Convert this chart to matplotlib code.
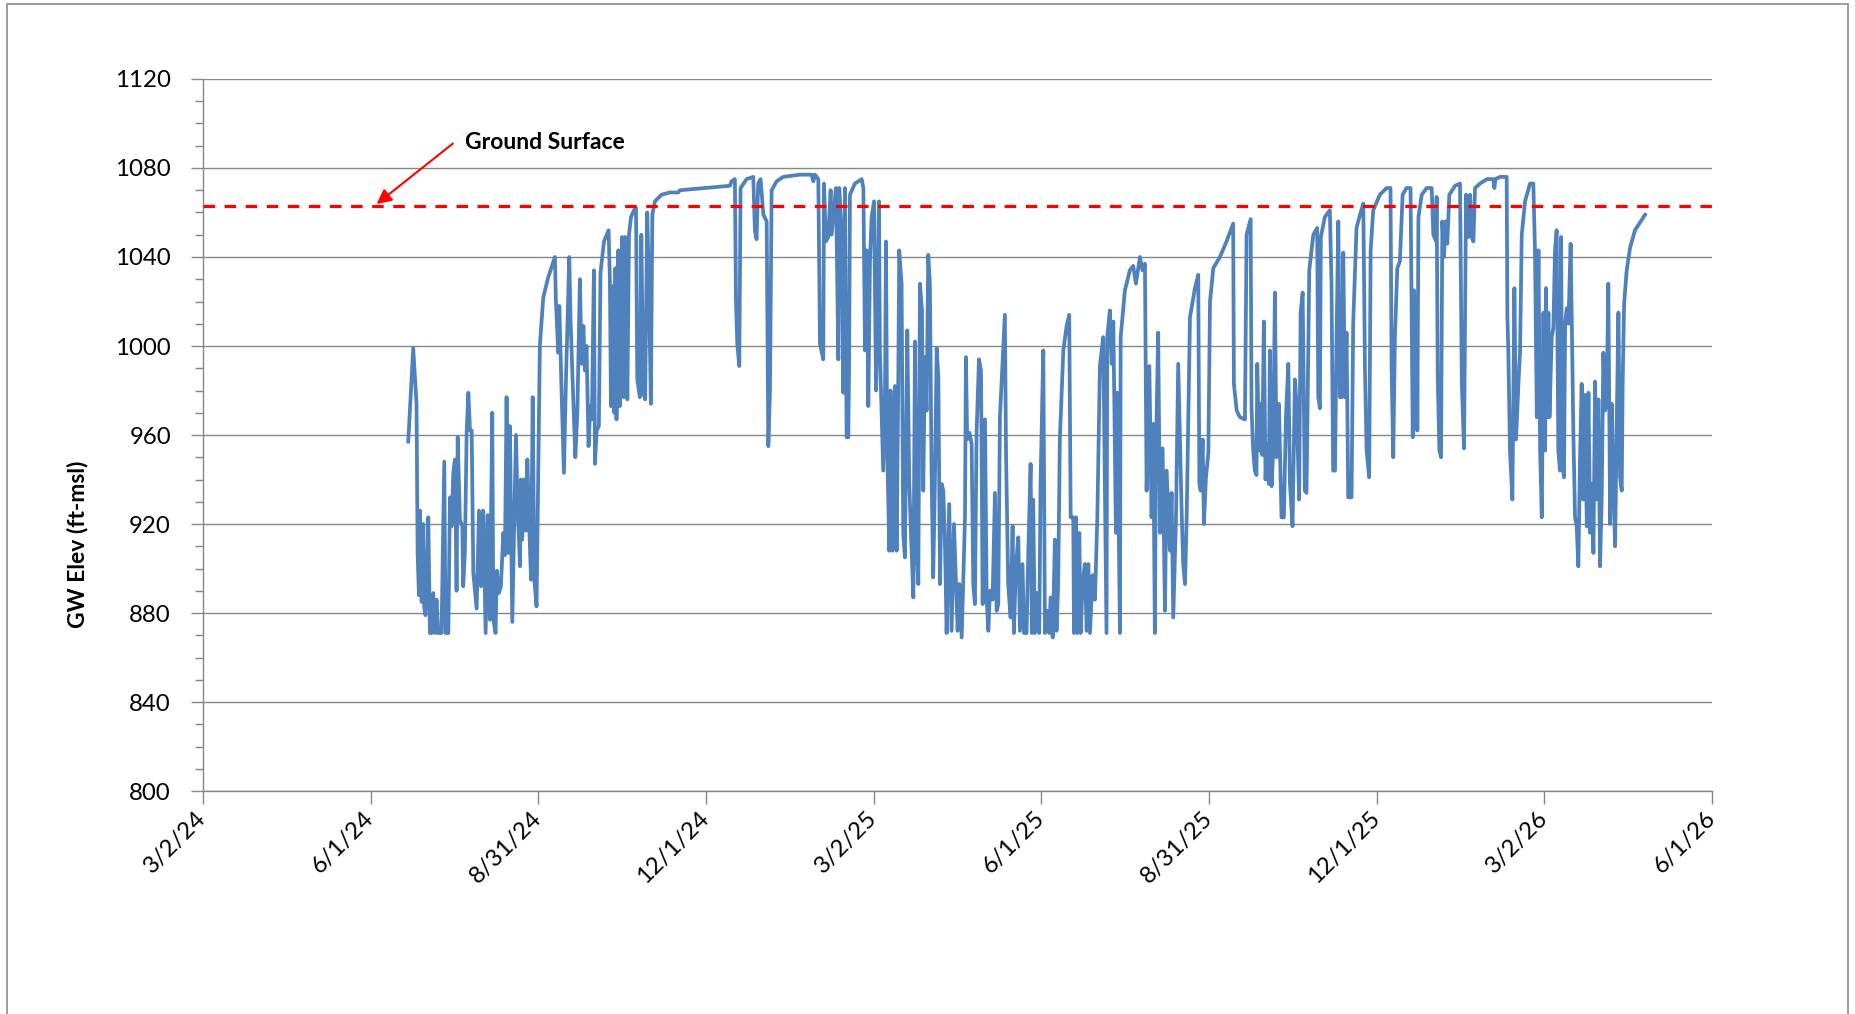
import numpy as np
import matplotlib
matplotlib.use('Agg')
import matplotlib.pyplot as plt
from matplotlib.patches import Rectangle

plt.rcParams['font.family'] = ['Lato', 'DejaVu Sans']

# (days since 3/2/24, GW elevation ft-msl)
summer_2024 = [
    (111.7, 957), (114.4, 999), (116.2, 974), (116.8, 907), (117.5, 888), (118.1, 926),
    (119.0, 885), (119.9, 920), (120.4, 882), (121.1, 879), (121.7, 892), (122.6, 923),
    (123.5, 871), (124.4, 871), (125.3, 889), (126.2, 871), (127.1, 886), (128.0, 871),
    (129.8, 871), (131.3, 948), (132.0, 871), (133.5, 871), (134.4, 932), (135.3, 919),
    (136.2, 943), (137.1, 949), (138.0, 890), (138.6, 959), (139.8, 922), (141.1, 919),
    (141.6, 892), (142.5, 907), (143.5, 962), (144.4, 979), (145.3, 962), (146.2, 962),
    (147.1, 898), (148.9, 882), (150.2, 926), (151.3, 892), (152.5, 926), (153.8, 871),
    (154.9, 924), (156.1, 877), (157.4, 970), (158.0, 877), (159.2, 871), (159.9, 899),
    (161.0, 889), (162.1, 892), (163.4, 916), (164.3, 906), (165.2, 977), (166.1, 907),
    (167.0, 964), (168.3, 876), (169.4, 922), (170.3, 960), (171.2, 928), (172.5, 901),
    (173.0, 940), (173.7, 913), (174.8, 940), (175.7, 917), (176.5, 949), (177.4, 922),
    (178.5, 895), (179.4, 977), (180.3, 895), (181.5, 883), (182.4, 940), (183.3, 1000),
    (184.3, 1012), (185.2, 1022), (187.9, 1031), (191.5, 1040), (192.0, 1021), (193.3, 997),
    (193.9, 1018), (195.1, 980), (196.4, 943), (197.5, 985), (199.3, 1040), (200.0, 1012),
    (201.1, 985), (202.6, 950), (203.7, 970), (205.1, 1030), (206.0, 992), (207.0, 1009),
    (207.8, 989), (208.7, 1000), (209.8, 955), (210.7, 973), (211.6, 967), (212.7, 1034),
    (213.3, 947), (214.2, 962), (215.4, 964),
]

fall_2024 = [
    (216.3, 1033), (218.2, 1047), (220.7, 1052), (221.4, 1030), (222.0, 973), (223.2, 1027),
    (223.8, 970), (224.4, 1035), (225.0, 967), (226.0, 1043), (226.9, 973), (228.0, 1049),
    (228.9, 977), (229.8, 1049), (230.9, 976), (231.8, 1050), (232.9, 1058), (234.5, 1061),
    (235.6, 1062), (236.3, 985), (237.7, 977), (238.5, 1050), (239.6, 979), (240.6, 976),
    (241.7, 1060), (242.6, 1030), (243.7, 974), (244.5, 1059), (245.9, 1065), (249.5, 1068),
    (254.0, 1069), (258.6, 1069), (259.5, 1070), (286.7, 1072), (287.6, 1074), (289.4, 1075),
    (290.0, 1020), (290.7, 1001), (291.8, 991), (292.5, 1071), (295.8, 1075), (299.4, 1076),
    (300.3, 1052), (301.2, 1048), (302.1, 1073), (303.4, 1075), (304.9, 1059), (306.7, 1056),
    (307.6, 955), (308.5, 980), (309.4, 1070), (312.1, 1074), (315.7, 1076),
]

winter_2025 = [
    (324.8, 1077), (331.2, 1077), (332.1, 1074), (333.0, 1077), (334.8, 1075), (335.7, 1001),
    (337.5, 994), (337.9, 1073), (338.9, 1047), (340.2, 1049), (341.5, 1070), (342.0, 1050),
    (342.9, 1058), (344.4, 1071), (345.7, 994), (346.2, 1071), (347.5, 1050), (348.4, 979),
    (349.3, 1071), (350.2, 959), (351.1, 959), (351.6, 995), (352.0, 1068), (354.7, 1073),
    (358.4, 1075), (359.3, 1071), (360.2, 998), (361.1, 1043), (362.0, 973), (362.9, 1038),
    (363.8, 1058), (365.1, 1065), (366.2, 980), (366.9, 1013), (367.8, 1065), (368.3, 998),
    (370.1, 944), (371.1, 980), (371.6, 1047), (372.3, 953), (373.4, 908), (374.1, 980),
    (375.2, 908), (376.5, 982), (377.4, 908), (378.3, 983), (378.8, 1043), (380.1, 1028),
    (381.0, 916), (381.9, 905), (383.2, 1007), (384.3, 938), (385.2, 916), (386.5, 887),
    (387.4, 1002), (388.3, 908), (389.2, 893), (390.1, 1028), (391.2, 1016), (391.9, 935),
    (392.8, 995), (393.7, 971), (394.6, 1041), (395.5, 1028), (396.4, 944), (397.3, 896),
    (398.2, 938), (399.2, 999), (400.1, 986), (401.0, 893), (401.9, 938), (402.8, 935),
    (403.7, 911), (404.6, 871), (406.0, 929), (407.3, 872), (408.6, 920), (409.7, 893),
    (410.6, 872), (411.5, 893), (412.8, 869), (413.7, 896), (414.6, 923), (415.1, 995),
    (415.8, 958), (417.0, 961), (418.2, 956), (419.1, 893), (420.0, 884), (420.9, 961),
    (422.2, 994), (423.3, 989), (424.2, 884), (425.5, 967), (426.4, 886), (427.3, 872),
    (428.2, 890), (429.6, 886), (430.9, 934), (431.8, 881), (432.7, 884),
]

spring_2025 = [
    (433.6, 968), (436.3, 1014), (436.9, 953), (438.1, 893), (439.4, 878), (440.5, 919),
    (441.2, 871), (442.3, 901), (443.6, 914), (444.5, 872), (445.9, 902), (446.7, 871),
    (448.1, 871), (449.0, 906), (450.3, 947), (451.0, 871), (451.7, 931), (452.6, 871),
    (453.5, 889), (455.0, 871), (455.7, 938), (457.2, 998), (458.1, 871), (459.4, 881),
    (460.4, 871), (461.2, 887), (462.3, 869), (463.5, 913), (464.4, 872), (465.3, 893),
    (466.2, 958), (468.1, 998), (469.9, 1009), (471.3, 1014), (472.1, 923), (473.5, 923),
    (473.9, 871), (475.0, 923), (475.7, 871), (476.8, 916), (477.5, 871), (478.6, 893),
    (479.8, 902), (480.8, 872), (481.7, 902), (482.6, 871), (484.0, 897), (485.3, 886),
    (486.6, 923), (488.0, 991), (489.8, 1004), (491.6, 871), (492.0, 1004), (493.4, 1016),
    (494.4, 992), (495.3, 1011), (496.7, 916), (497.4, 979), (498.9, 871), (499.3, 1004),
    (501.6, 1025), (504.3, 1034), (506.1, 1036), (507.6, 1028), (509.8, 1040), (511.2, 1034),
    (512.5, 1037), (513.4, 935), (514.9, 991), (516.1, 923), (517.0, 965), (517.9, 871),
    (518.5, 953), (519.7, 1006), (520.7, 916), (522.1, 954), (523.4, 881), (524.3, 944),
    (526.1, 908), (527.0, 934), (527.9, 878), (529.4, 923), (530.6, 992), (531.5, 959),
    (532.4, 928), (533.3, 902), (534.3, 893), (535.2, 923), (537.0, 1013), (539.7, 1026),
    (541.5, 1032), (542.1, 938), (542.8, 935), (543.9, 958), (544.6, 920), (545.7, 941),
    (547.0, 952), (547.9, 1020), (549.7, 1035),
]

fall_2025 = [
    (553.3, 1040), (556.9, 1047), (560.5, 1055), (560.9, 983), (562.4, 971), (564.2, 968),
    (566.9, 967), (567.8, 1050), (570.0, 1057), (570.5, 972), (571.4, 953), (572.3, 944),
    (573.2, 942), (573.6, 992), (574.7, 953), (575.4, 974), (576.3, 951), (577.2, 1011),
    (578.1, 940), (579.2, 956), (579.9, 938), (580.5, 998), (581.4, 937), (582.3, 953),
    (583.2, 1024), (584.1, 950), (585.4, 974), (586.8, 923), (588.1, 923), (589.2, 968),
    (590.5, 992), (591.4, 938), (592.8, 919), (594.1, 985), (595.0, 974), (596.4, 931),
    (597.2, 1015), (598.3, 1024), (599.5, 935), (600.4, 934), (601.9, 1034), (604.1, 1050),
    (606.2, 1053), (606.8, 977), (607.7, 972), (608.2, 1049), (610.4, 1058), (613.1, 1061),
    (614.0, 1028), (614.9, 944), (615.9, 944), (616.8, 1007), (617.7, 1056), (618.6, 977),
    (619.5, 977), (620.4, 1042), (621.3, 977), (622.2, 1006), (623.1, 932), (624.9, 932),
    (625.8, 1010), (627.6, 1053), (629.5, 1059), (631.3, 1064), (632.2, 990), (633.1, 953),
    (634.5, 941), (635.3, 1043), (636.7, 1061), (640.3, 1068), (644.0, 1071), (646.1, 1071),
    (646.7, 990), (647.6, 950), (648.5, 1004), (649.8, 1035), (651.2, 1038), (652.7, 1068),
    (654.8, 1071), (657.0, 1071),
]

winter_2026 = [
    (658.2, 959), (658.9, 1025), (659.5, 964), (660.4, 1022), (660.7, 962), (661.3, 1058),
    (663.1, 1068), (665.8, 1071), (668.5, 1071), (669.4, 1050), (670.9, 1047), (671.2, 1067),
    (671.8, 985), (672.7, 953), (673.6, 950), (674.3, 1056), (675.2, 1040), (676.1, 1056),
    (677.0, 1046), (678.1, 1068), (681.2, 1072), (683.9, 1073), (684.9, 983), (686.1, 954),
    (687.2, 1068), (688.5, 1049), (689.4, 1068), (690.3, 1049), (691.2, 1047), (692.1, 1071),
    (694.8, 1073), (698.5, 1075), (702.1, 1075), (702.6, 1071), (703.2, 1075), (705.7, 1076),
    (709.3, 1076), (709.7, 1013), (710.2, 998), (711.1, 953), (712.4, 931), (713.5, 1026),
    (714.4, 958), (715.7, 983), (716.6, 998), (717.5, 1050), (719.3, 1065), (722.0, 1073),
    (723.8, 1073), (724.7, 1043), (725.7, 968), (726.6, 1043), (727.5, 953), (728.4, 923),
    (729.3, 1015), (730.2, 953), (730.7, 1026), (731.5, 968), (732.0, 1015), (732.6, 968),
    (733.8, 1004), (734.7, 1008), (735.6, 1043), (736.5, 1052), (737.4, 953), (738.3, 944),
    (738.9, 1049), (739.6, 947), (740.5, 941), (741.1, 1010), (742.0, 1017), (742.9, 1010),
    (744.1, 1046), (744.7, 1013), (745.6, 960), (746.5, 923), (747.4, 919), (748.3, 901),
    (749.2, 949), (750.1, 983), (751.0, 931), (751.9, 978), (752.9, 919), (753.8, 979),
    (754.7, 916), (755.6, 938), (756.5, 907), (757.4, 984), (758.3, 931), (759.2, 976),
    (760.1, 901), (761.0, 931), (761.9, 997), (762.8, 971), (763.7, 974), (764.6, 1028),
    (765.6, 920), (766.5, 974), (767.4, 938), (768.3, 910), (769.2, 966), (770.1, 1015),
    (771.0, 941), (771.9, 935), (772.4, 983), (773.2, 1019), (774.6, 1034), (776.4, 1044),
    (779.1, 1052), (784.6, 1059),
]

ground_surface = 1063
x_span_days = 821  # 3/2/24 -> 6/1/26
x_labels = ['3/2/24', '6/1/24', '8/31/24', '12/1/24', '3/2/25',
            '6/1/25', '8/31/25', '12/1/25', '3/2/26', '6/1/26']
y_major = np.arange(800, 1121, 40)
y_minor = np.arange(800, 1121, 10)

records = summer_2024 + fall_2024 + winter_2025 + spring_2025 + fall_2025 + winter_2026
days = np.array([d for d, _ in records])
elev = np.array([v for _, v in records])

grey = '#868686'

fig = plt.figure(figsize=(18.55, 10.14), dpi=100)
ax = fig.add_axes([0.1094, 0.2199, 0.8135, 0.7022])

ax.plot(days, elev, color='#4F81BD', lw=2.7, solid_joinstyle='round', zorder=3)
ax.axhline(ground_surface, color='red', lw=2.3, ls=(0, (3.6, 3.0)), zorder=4)

ax.set_xlim(0, x_span_days)
ax.set_ylim(800, 1120)
ax.set_xticks(np.linspace(0, x_span_days, len(x_labels)))
ax.set_xticklabels(x_labels, rotation=45, ha='right', va='center', rotation_mode='anchor')
ax.set_yticks(y_major)
ax.set_yticks(y_minor, minor=True)

ax.yaxis.grid(True, which='major', color=grey, lw=1.0)
ax.set_axisbelow(True)
for s in ['top', 'right']:
    ax.spines[s].set_visible(False)
for s in ['left', 'bottom']:
    ax.spines[s].set_color(grey)
    ax.spines[s].set_linewidth(1.0)

ax.tick_params(axis='y', which='major', length=9, width=1, color=grey, labelsize=17.3, pad=14)
ax.tick_params(axis='y', which='minor', length=6, width=1, color=grey)
ax.tick_params(axis='x', which='major', length=9, width=1, color=grey, labelsize=17.3, pad=8)

# ground surface callout
ax.annotate('', xy=(94.5, 1063.8), xytext=(136, 1091),
            arrowprops=dict(arrowstyle='-|>', color='red', lw=1.5,
                            mutation_scale=22, shrinkA=0, shrinkB=0))
ax.text(142.5, 1091.5, 'Ground Surface', fontsize=16.5, fontweight='bold',
        ha='left', va='center')

fig.text(77 / 1855, 1 - 544 / 1014, 'GW Elev (ft-msl)', rotation=90,
         fontsize=16.5, fontweight='bold', ha='center', va='center')

# chart area border
fig.add_artist(Rectangle((7 / 1855, -0.05), (1848 - 7) / 1855, 0.996 + 0.05,
                         transform=fig.transFigure, fill=False, ec='#8c8c8c', lw=1.2))

fig.savefig('out.png', dpi=100)
